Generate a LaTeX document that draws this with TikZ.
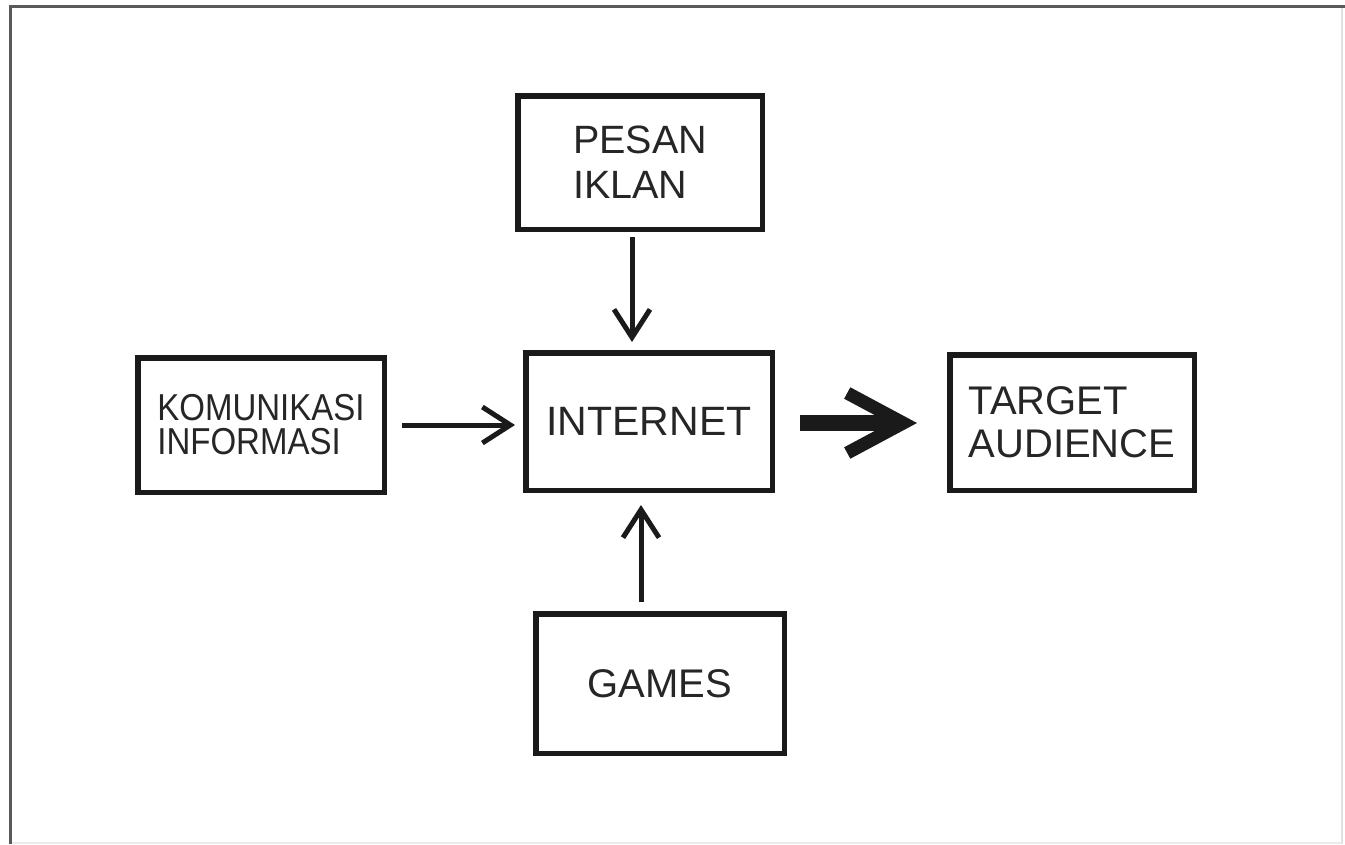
\documentclass[tikz,border=0pt]{standalone}
\usepackage{fontspec}
\setmainfont{Liberation Sans}
\newfontfamily\narrowfont[FakeStretch=0.88]{Liberation Sans}
\usetikzlibrary{arrows.meta}
\definecolor{inkc}{HTML}{1A1A1A}
\definecolor{txtc}{HTML}{262626}
\definecolor{framec}{HTML}{5A5A5A}
\tikzset{
  boxnode/.style={draw=inkc, line width=5.5pt, rectangle, inner sep=0pt, text=txtc},
  thinarr/.style={draw=inkc, line width=5pt, -{Straight Barb[length=28pt,width=36pt]}},
  thickarr/.style={draw=inkc, line width=16pt, -{Straight Barb[length=56pt,width=60pt,line width=13pt]}},
}
\begin{document}
\begin{tikzpicture}[x=1pt,y=-1pt]
\useasboundingbox (0,0) rectangle (1345,844);
% frame
\draw[framec, line width=3pt] (10,844) -- (10,6) -- (1345,6);
\draw[black!12, line width=2pt] (1342,8) -- (1342,844);
\draw[black!8, line width=1.5pt] (12,843) -- (1342,843);
% boxes
\node[boxnode, minimum width=244.5pt, minimum height=133.5pt, align=left,
      font=\fontsize{39.5}{45}\selectfont] (pesan) at (640,162.5) {PESAN\\IKLAN};
\node[boxnode, minimum width=246.5pt, minimum height=134.5pt, align=left,
      font=\narrowfont\fontsize{37.5}{34}\selectfont] (kom) at (261,425) {KOMUNIKASI\\INFORMASI};
\node[boxnode, minimum width=246.5pt, minimum height=137.5pt,
      font=\fontsize{41}{45}\selectfont] (internet) at (649,421.5) {INTERNET};
\node[boxnode, minimum width=244.5pt, minimum height=135.5pt, align=left,
      font=\fontsize{40}{43}\selectfont] (target) at (1072,422.5) {TARGET\\AUDIENCE};
\node[boxnode, minimum width=248.5pt, minimum height=139.5pt,
      font=\fontsize{40}{45}\selectfont] (games) at (660,683.5) {GAMES};
% connectors
\draw[thinarr, shorten <=5pt, shorten >=8pt] ([xshift=-8pt]pesan.south) -- ([xshift=-17pt]internet.north);
\draw[thinarr, shorten <=15pt, shorten >=8pt] (kom.east) -- ([yshift=-3.5pt]internet.west);
\draw[thinarr, shorten <=9pt, shorten >=12pt] ([xshift=-19pt]games.north) -- ([xshift=-8pt]internet.south);
\draw[thickarr, shorten <=25pt, shorten >=30pt] ([yshift=-1.5pt]internet.east) -- ([yshift=-0.5pt]target.west);
\end{tikzpicture}
\end{document}
